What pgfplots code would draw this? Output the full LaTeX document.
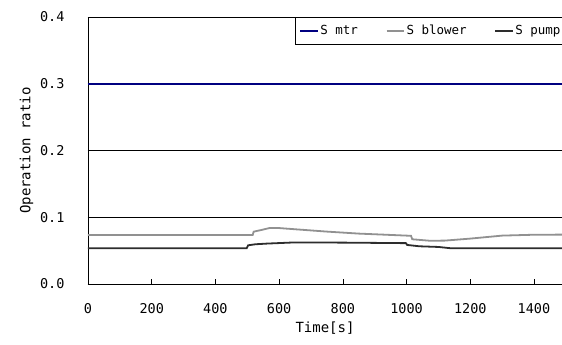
\documentclass[border=0pt]{standalone}
\usepackage{pgfplots}
\pgfplotsset{compat=1.18}
\usepackage{fontspec}
\setmainfont{DejaVu Sans Mono}
\definecolor{mtr}{RGB}{0,0,128}
\definecolor{blower}{RGB}{145,145,145}
\definecolor{pump}{RGB}{45,45,45}
\begin{document}
\begin{tikzpicture}[x=1pt,y=1pt]
\path[use as bounding box] (-88,-61) rectangle (474,284);
\begin{axis}[
  at={(0,0)}, anchor=south west,
  scale only axis, width=474pt, height=267pt,
  xmin=0, xmax=1488, ymin=0, ymax=0.4,
  axis lines=left, axis line style={-, black, line width=0.8pt},
  xtick={0,200,...,1400}, ytick={0,0.1,0.2,0.3,0.4},
  xticklabel style={/pgf/number format/set thousands separator={}},
  yticklabel style={/pgf/number format/fixed, /pgf/number format/fixed zerofill, /pgf/number format/precision=1},
  /pgf/number format/assume math mode=true,
  tick align=inside, major tick length=5pt,
  tick style={black, line width=0.6pt},
  ymajorgrids, grid style={black, line width=0.6pt},
  ticklabel style={font=\fontsize{13.5}{15}\selectfont},
  xticklabel style={yshift=-16pt},
  yticklabel style={xshift=-20pt},
  label style={font=\fontsize{14}{16}\selectfont},
  xlabel={Time[s]}, ylabel={Operation ratio},
  xlabel style={yshift=-1pt},
  ylabel style={yshift=0pt},
  legend style={at={(1.01,1)}, anchor=north east, legend columns=-1,
    draw=black, line width=0.6pt, font=\fontsize{12.5}{14}\selectfont,
    inner xsep=4pt, inner ysep=6pt, /tikz/every even column/.append style={column sep=26pt}},
  legend image post style={line width=1.5pt},
  clip=true,
]
\addplot[mtr, line width=1.8pt] coordinates {(0,0.3) (1500,0.3)};
\addlegendentry{S mtr}
\addplot[blower, line width=1.8pt] coordinates {
(0,0.0734) (517,0.0734) (520,0.0784) (545,0.0810) (571,0.0840) (600,0.0838)
(650,0.0820) (750,0.0785) (850,0.0755) (950,0.0735) (1014,0.0722)
(1018,0.0670) (1073,0.0648) (1120,0.0650) (1200,0.0680) (1300,0.0725) (1400,0.0738) (1500,0.0740)};
\addlegendentry{S blower}
\addplot[pump, line width=1.8pt] coordinates {
(0,0.0535) (498,0.0535) (503,0.0580) (525,0.0595) (560,0.0605) (644,0.0622)
(800,0.0620) (998,0.0612) (1002,0.0585) (1040,0.0565) (1100,0.0555) (1140,0.0535) (1500,0.0535)};
\addlegendentry{S pump}
\end{axis}
\end{tikzpicture}
\end{document}
